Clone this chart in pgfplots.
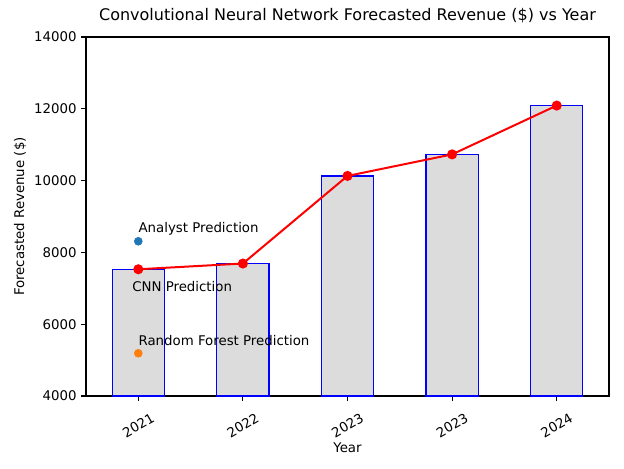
\documentclass[border=0pt]{standalone}
\usepackage{fontspec}
\setmainfont{DejaVu Sans}
\usepackage{pgfplots}
\pgfplotsset{compat=1.18}
\definecolor{barfill}{RGB}{220,220,220}
\definecolor{mplblue}{RGB}{31,119,180}
\definecolor{mplorange}{RGB}{255,127,14}

\begin{document}
\begin{tikzpicture}
  \begin{axis}[scale only axis, width=392.25pt, height=269.25pt,
    xmin=-0.5, xmax=4.5, ymin=4000, ymax=14000,
    xtick={0,1,2,3,4}, xticklabels={2021,2022,2023,2023,2024},
    ytick={4000,6000,8000,10000,12000,14000},
    /pgf/number format/assume math mode=true,
    scaled y ticks=false, yticklabel style={/pgf/number format/1000 sep={}},
    tick label style={font=\fontsize{10}{12}\selectfont},
    xticklabel style={yshift=-18.5pt, rotate=30, anchor=center},
    tick align=outside, major tick length=3.5pt,
    every tick/.style={black, line width=0.8pt},
    xtick pos=bottom, ytick pos=left,
    axis line style={line width=0.8pt},
    title={Convolutional Neural Network Forecasted Revenue (\$) vs Year},
    title style={font=\fontsize{12}{14}\selectfont, at={(axis description cs:0.5,1.038)}, anchor=center},
    xlabel={Year}, ylabel={Forecasted Revenue (\$)},
    label style={font=\fontsize{10}{12}\selectfont},
    xlabel style={at={(axis description cs:0.5,-0.145)}, anchor=center},
    ylabel style={at={(axis description cs:-0.126,0.5)}, anchor=center, rotate=0},
    clip=true]
    \addplot[ybar, bar width=0.5, fill=barfill, draw=blue, line width=0.9pt]
      coordinates {(0,7530) (1,7690) (2,10130) (3,10730) (4,12090)};
    \addplot[red, line width=1.5pt, mark=*, mark size=3pt, mark options={solid, fill=red, draw=red}]
      coordinates {(0,7530) (1,7690) (2,10130) (3,10730) (4,12090)};
    \addplot[only marks, mark=*, mark size=3pt, mplblue, mark options={fill=mplblue, draw=mplblue}]
      coordinates {(0,8310)};
    \addplot[only marks, mark=*, mark size=3pt, mplorange, mark options={fill=mplorange, draw=mplorange}]
      coordinates {(0,5190)};
    \node[anchor=base west, inner sep=0pt, font=\fontsize{10}{12}\selectfont] at (axis cs:0,8545) {Analyst Prediction};
    \node[anchor=base west, inner sep=0pt, font=\fontsize{10}{12}\selectfont] at (axis cs:-0.06,6905) {CNN Prediction};
    \node[anchor=base west, inner sep=0pt, font=\fontsize{10}{12}\selectfont] at (axis cs:0,5420) {Random Forest Prediction};
  \end{axis}
  \path ([xshift=-64.5pt,yshift=-54pt]current axis.south west) rectangle ([xshift=11.25pt,yshift=27.75pt]current axis.north east);
\end{tikzpicture}
\end{document}
